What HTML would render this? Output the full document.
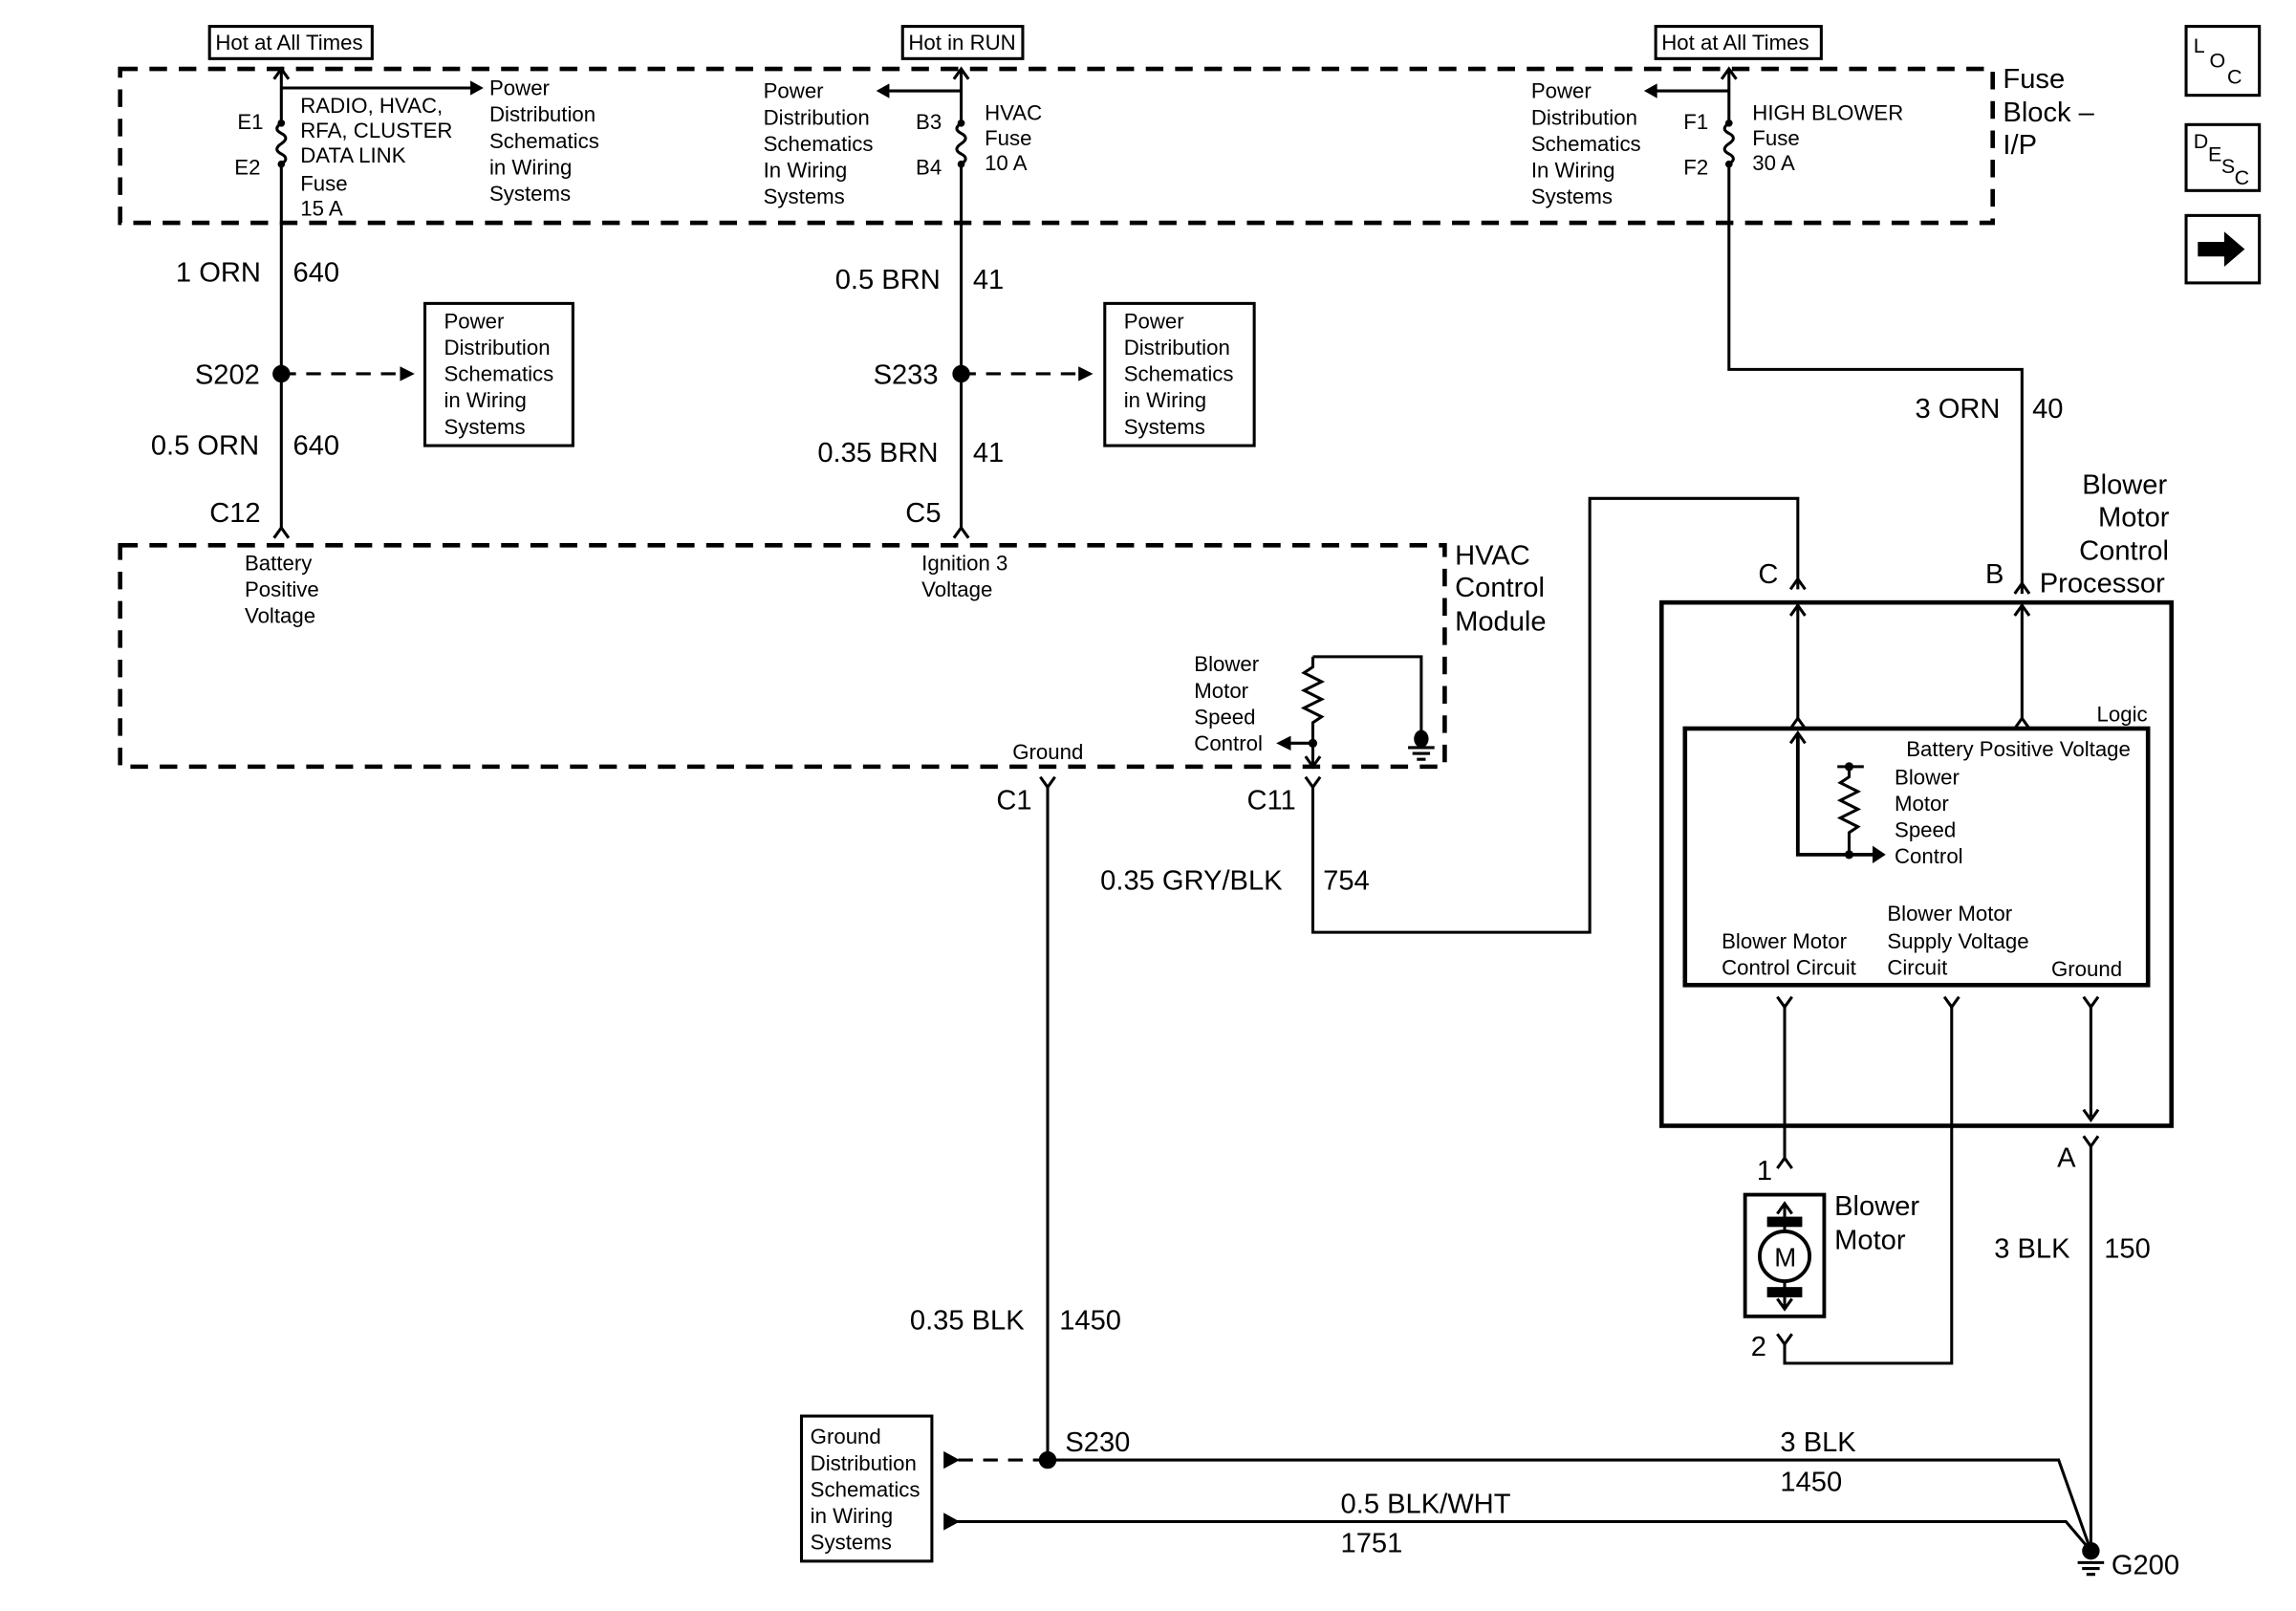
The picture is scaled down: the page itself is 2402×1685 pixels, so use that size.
<!DOCTYPE html>
<html><head><meta charset="utf-8"><style>
html,body{margin:0;padding:0;background:#fff;}
svg{display:block;}
text{font-family:"Liberation Sans Narrow","Liberation Sans",sans-serif;fill:#000;}
.s{font-size:14.5px;}
.b{font-size:19px;font-family:"Liberation Sans",sans-serif;}
</style></head><body>
<svg width="2402" height="1685" viewBox="0 0 1567 1099" preserveAspectRatio="none" xmlns="http://www.w3.org/2000/svg">
<g fill="none" stroke="#000" stroke-width="2">
<rect x="82" y="47" width="1278" height="105" stroke-width="3" stroke-dasharray="12,8"/>
<rect x="82" y="372" width="904" height="151" stroke-width="3" stroke-dasharray="12,8"/>
<rect x="143" y="18" width="111" height="22"/>
<rect x="616" y="18" width="82" height="22"/>
<rect x="1130" y="18" width="113" height="22"/>
<path d="M192 47 V84 M192 112 V360"/>
<path d="M192 84 q-6 4 0 7 q6 3 0 7 q-6 4 0 7 q6 3 0 7"/>
<path d="M187 54 L192 47 L197 54"/>
<path d="M192 60 H322"/>
<path d="M187 367 L192 360 L197 367"/>
<path d="M656 47 V84 M656 112 V360"/>
<path d="M656 84 q-6 4 0 7 q6 3 0 7 q-6 4 0 7 q6 3 0 7"/>
<path d="M651 54 L656 47 L661 54"/>
<path d="M656 62 H606"/>
<path d="M651 367 L656 360 L661 367"/>
<path d="M1180 47 V84 M1180 112 V252 H1380 V405"/>
<path d="M1180 84 q-6 4 0 7 q6 3 0 7 q-6 4 0 7 q6 3 0 7"/>
<path d="M1175 54 L1180 47 L1185 54"/>
<path d="M1180 62 H1130"/>
<path d="M1375 405 L1380 398 L1385 405"/>
<path d="M192 255 H275 M656 255 H738" stroke-dasharray="10,7"/>
<rect x="290" y="207" width="101" height="97"/>
<rect x="754" y="207" width="102" height="97"/>
<path d="M896 448 H970 V500"/>
<path d="M896 448 V455 l-6 4 l12 6 l-12 6 l12 6 l-12 6 l12 6 l-6 4 V523"/>
<path d="M896 507 H880"/>
<path d="M891 516 L896 523 L901 516"/>
<path d="M961 510 H979 M964 514 H976 M967 518 H973"/>
<path d="M715 537 V996"/>
<path d="M710 530 L715 537 L720 530"/>
<path d="M896 537 V636 H1085 V340 H1227 V402"/>
<path d="M891 530 L896 537 L901 530"/>
<path d="M1222 402 L1227 395 L1232 402"/>
<rect x="1134" y="411" width="348" height="357" stroke-width="3"/>
<rect x="1150" y="497" width="316" height="175" stroke-width="3"/>
<path d="M1227 411 V490 M1380 411 V490"/>
<path d="M1222 420 L1227 413 L1232 420 M1375 420 L1380 413 L1385 420 M1222 497 L1227 490 L1232 497 M1375 497 L1380 490 L1385 497"/>
<path d="M1227 500 V583 H1280" stroke-width="2.5"/>
<path d="M1222 507 L1227 500 L1232 507"/>
<path d="M1254 523 H1272 M1262 523 V530 l-6 4 l12 6 l-12 6 l12 6 l-12 6 l12 6 l-6 4 V583"/>
<path d="M1218 685 V790 M1332 685 V930 H1218 V917 M1427 685 V762 M1427 782 V1058"/>
<path d="M1213 680 L1218 687 L1223 680 M1327 680 L1332 687 L1337 680 M1422 680 L1427 687 L1432 680"/>
<path d="M1422 757 L1427 764 L1432 757 M1422 775 L1427 782 L1432 775"/>
<path d="M1213 797 L1218 790 L1223 797 M1213 910 L1218 917 L1223 910"/>
<rect x="1191" y="815" width="54" height="83" stroke-width="2.5"/>
<circle cx="1218" cy="857" r="17" stroke-width="2.5"/>
<path d="M1218 822 V840 M1218 874 V892"/>
<path d="M1213 828 L1218 821 L1223 828 M1213 886 L1218 893 L1223 886"/>
<path d="M654 996 H715" stroke-dasharray="10,7"/>
<path d="M715 996 H1405 L1427 1058"/>
<path d="M652 1038 H1410 L1427 1058"/>
<rect x="547" y="966" width="89" height="99"/>
<path d="M1418 1066 H1436 M1421 1070 H1433 M1424 1074 H1430"/>
<rect x="1492" y="18" width="50" height="47"/>
<rect x="1492" y="85" width="50" height="45"/>
<rect x="1492" y="147" width="50" height="46"/>
</g>
<g fill="#000">
<circle cx="192" cy="84" r="2.5"/><circle cx="192" cy="112" r="2.5"/>
<circle cx="656" cy="84" r="2.5"/><circle cx="656" cy="112" r="2.5"/>
<circle cx="1180" cy="84" r="2.5"/><circle cx="1180" cy="112" r="2.5"/>
<path d="M330 60 l-9 -5 v10 z"/>
<path d="M598 62 l9 -5 v10 z"/>
<path d="M1122 62 l9 -5 v10 z"/>
<circle cx="192" cy="255" r="6"/><circle cx="656" cy="255" r="6"/>
<path d="M283 255 l-10 -5 v10 z"/><path d="M746 255 l-10 -5 v10 z"/>
<path d="M871 507 l10 -5 v10 z"/><circle cx="896" cy="507" r="3"/>
<ellipse cx="970" cy="504" rx="5" ry="6"/>
<circle cx="1262" cy="523" r="3"/><circle cx="1262" cy="583" r="3"/>
<path d="M1287 583 l-9 -6 v12 z"/>
<rect x="1206" y="830" width="24" height="7"/><rect x="1206" y="878" width="24" height="7"/>
<circle cx="715" cy="996" r="6"/>
<path d="M644 990 l11 6 l-11 6 z"/><path d="M644 1032 l11 6 l-11 6 z"/>
<circle cx="1427" cy="1058" r="6"/>
<path d="M1500 165 h18 v-7 l14 12 l-14 12 v-7 h-18 z"/>
</g>
<g class="s">
<text x="147" y="34">Hot at All Times</text>
<text x="620" y="34">Hot in RUN</text>
<text x="1134" y="34">Hot at All Times</text>
<text x="162" y="88">E1</text><text x="160" y="119">E2</text>
<text x="205" y="77">RADIO, HVAC,</text><text x="205" y="94">RFA, CLUSTER</text><text x="205" y="111">DATA LINK</text><text x="205" y="130">Fuse</text><text x="205" y="147">15 A</text>
<text x="334" y="65">Power</text><text x="334" y="83">Distribution</text><text x="334" y="101">Schematics</text><text x="334" y="119">in Wiring</text><text x="334" y="137">Systems</text>
<text x="521" y="67">Power</text><text x="521" y="85">Distribution</text><text x="521" y="103">Schematics</text><text x="521" y="121">In Wiring</text><text x="521" y="139">Systems</text>
<text x="625" y="88">B3</text><text x="625" y="119">B4</text>
<text x="672" y="82">HVAC</text><text x="672" y="99">Fuse</text><text x="672" y="116">10 A</text>
<text x="1045" y="67">Power</text><text x="1045" y="85">Distribution</text><text x="1045" y="103">Schematics</text><text x="1045" y="121">In Wiring</text><text x="1045" y="139">Systems</text>
<text x="1149" y="88">F1</text><text x="1149" y="119">F2</text>
<text x="1196" y="82">HIGH BLOWER</text><text x="1196" y="99">Fuse</text><text x="1196" y="116">30 A</text>
<text x="303" y="224">Power</text><text x="303" y="242">Distribution</text><text x="303" y="260">Schematics</text><text x="303" y="278">in Wiring</text><text x="303" y="296">Systems</text>
<text x="767" y="224">Power</text><text x="767" y="242">Distribution</text><text x="767" y="260">Schematics</text><text x="767" y="278">in Wiring</text><text x="767" y="296">Systems</text>
<text x="167" y="389">Battery</text><text x="167" y="407">Positive</text><text x="167" y="425">Voltage</text>
<text x="629" y="389">Ignition 3</text><text x="629" y="407">Voltage</text>
<text x="815" y="458">Blower</text><text x="815" y="476">Motor</text><text x="815" y="494">Speed</text><text x="815" y="512">Control</text>
<text x="691" y="518">Ground</text>
<text x="1431" y="492">Logic</text>
<text x="1301" y="516">Battery Positive Voltage</text>
<text x="1293" y="535">Blower</text><text x="1293" y="553">Motor</text><text x="1293" y="571">Speed</text><text x="1293" y="589">Control</text>
<text x="1288" y="628">Blower Motor</text><text x="1288" y="647">Supply Voltage</text><text x="1288" y="665">Circuit</text>
<text x="1175" y="647">Blower Motor</text><text x="1175" y="665">Control Circuit</text>
<text x="1400" y="666">Ground</text>
<text x="553" y="985">Ground</text><text x="553" y="1003">Distribution</text><text x="553" y="1021">Schematics</text><text x="553" y="1039">in Wiring</text><text x="553" y="1057">Systems</text>
</g>
<g class="b">
<text x="1367" y="60">Fuse</text><text x="1367" y="83">Block –</text><text x="1367" y="105">I/P</text>
<text x="120" y="192">1 ORN</text><text x="200" y="192">640</text>
<text x="133" y="262">S202</text>
<text x="103" y="310">0.5 ORN</text><text x="200" y="310">640</text>
<text x="143" y="356">C12</text>
<text x="570" y="197">0.5 BRN</text><text x="664" y="197">41</text>
<text x="596" y="262">S233</text>
<text x="558" y="315">0.35 BRN</text><text x="664" y="315">41</text>
<text x="618" y="356">C5</text>
<text x="1307" y="285">3 ORN</text><text x="1387" y="285">40</text>
<text x="1421" y="337">Blower</text><text x="1432" y="359">Motor</text><text x="1419" y="382">Control</text><text x="1392" y="404">Processor</text>
<text x="993" y="385">HVAC</text><text x="993" y="407">Control</text><text x="993" y="430">Module</text>
<text x="1200" y="398">C</text><text x="1355" y="398">B</text>
<text x="680" y="552">C1</text><text x="851" y="552">C11</text>
<text x="751" y="607">0.35 GRY/BLK</text><text x="903" y="607">754</text>
<text x="1199" y="805">1</text><text x="1195" y="925">2</text>
<text x="1252" y="829">Blower</text><text x="1252" y="852">Motor</text>
<text x="1211" y="864" style="font-size:18px">M</text>
<text x="1404" y="796">A</text>
<text x="1361" y="858">3 BLK</text><text x="1436" y="858">150</text>
<text x="621" y="907">0.35 BLK</text><text x="723" y="907">1450</text>
<text x="727" y="990">S230</text>
<text x="1215" y="990">3 BLK</text><text x="1215" y="1017">1450</text>
<text x="915" y="1032">0.5 BLK/WHT</text><text x="915" y="1059">1751</text>
<text x="1441" y="1074">G200</text>
</g>
<g style="font-size:14px;font-family:'Liberation Sans',sans-serif">
<text x="1497" y="36">L</text><text x="1508" y="46">O</text><text x="1520" y="57">C</text>
<text x="1497" y="101">D</text><text x="1507" y="110">E</text><text x="1516" y="118">S</text><text x="1525" y="126">C</text>
</g>
</svg>
</body></html>
